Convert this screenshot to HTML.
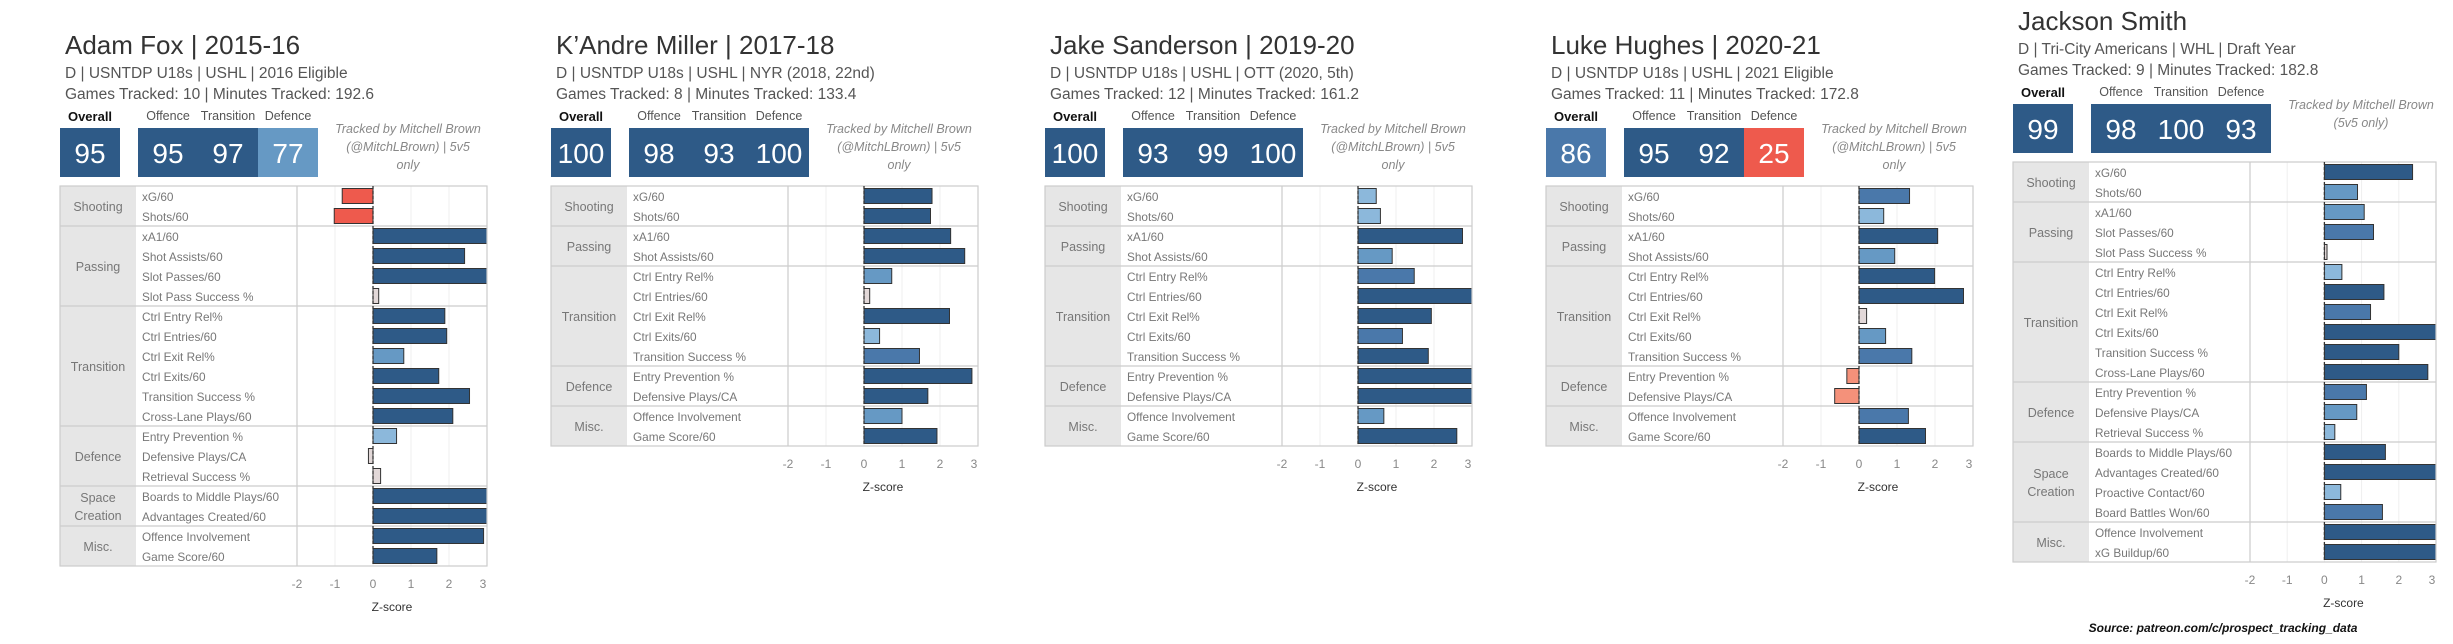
<!DOCTYPE html>
<html><head><meta charset="utf-8">
<style>
html,body{margin:0;padding:0;background:#fff;}
svg{display:block;font-family:"Liberation Sans",sans-serif;}
</style></head>
<body>
<svg id="root" width="2453" height="644" viewBox="0 0 2453 644" xmlns="http://www.w3.org/2000/svg"></svg>
<script>
// ---- data ----
const titles = ["Adam Fox | 2015-16","K\u2019Andre Miller | 2017-18","Jake Sanderson | 2019-20","Luke Hughes | 2020-21","Jackson Smith"];
const subtitles = ["D | USNTDP U18s | USHL | 2016 Eligible","D | USNTDP U18s | USHL | NYR (2018, 22nd)","D | USNTDP U18s | USHL | OTT (2020, 5th)","D | USNTDP U18s | USHL | 2021 Eligible","D | Tri-City Americans | WHL | Draft Year"];
const gamesLines = ["Games Tracked: 10 | Minutes Tracked: 192.6","Games Tracked: 8 | Minutes Tracked: 133.4","Games Tracked: 12 | Minutes Tracked: 161.2","Games Tracked: 11 | Minutes Tracked: 172.8","Games Tracked: 9 | Minutes Tracked: 182.8"];
const overallScores = [95,100,100,86,99];
const offenceScores = [95,98,93,95,98];
const transitionScores = [97,93,99,92,100];
const defenceScores = [77,100,100,25,93];
const trackedNotes = [["Tracked by Mitchell Brown","(@MitchLBrown) | 5v5","only"],["Tracked by Mitchell Brown","(@MitchLBrown) | 5v5","only"],["Tracked by Mitchell Brown","(@MitchLBrown) | 5v5","only"],["Tracked by Mitchell Brown","(@MitchLBrown) | 5v5","only"],["Tracked by Mitchell Brown","(5v5 only)"]];

const groupsA = [["Shooting",["xG/60","Shots/60"]],["Passing",["xA1/60","Shot Assists/60","Slot Passes/60","Slot Pass Success %"]],["Transition",["Ctrl Entry Rel%","Ctrl Entries/60","Ctrl Exit Rel%","Ctrl Exits/60","Transition Success %","Cross-Lane Plays/60"]],["Defence",["Entry Prevention %","Defensive Plays/CA","Retrieval Success %"]],["Space|Creation",["Boards to Middle Plays/60","Advantages Created/60"]],["Misc.",["Offence Involvement","Game Score/60"]]];
const groupsB = [["Shooting",["xG/60","Shots/60"]],["Passing",["xA1/60","Shot Assists/60"]],["Transition",["Ctrl Entry Rel%","Ctrl Entries/60","Ctrl Exit Rel%","Ctrl Exits/60","Transition Success %"]],["Defence",["Entry Prevention %","Defensive Plays/CA"]],["Misc.",["Offence Involvement","Game Score/60"]]];
const groupsC = [["Shooting",["xG/60","Shots/60"]],["Passing",["xA1/60","Slot Passes/60","Slot Pass Success %"]],["Transition",["Ctrl Entry Rel%","Ctrl Entries/60","Ctrl Exit Rel%","Ctrl Exits/60","Transition Success %","Cross-Lane Plays/60"]],["Defence",["Entry Prevention %","Defensive Plays/CA","Retrieval Success %"]],["Space|Creation",["Boards to Middle Plays/60","Advantages Created/60","Proactive Contact/60","Board Battles Won/60"]],["Misc.",["Offence Involvement","xG Buildup/60"]]];

const foxZ = [-0.81,-1.02, 3.5,2.41,3.5,0.15, 1.89,1.94,0.81,1.73,2.54,2.1, 0.62,-0.12,0.2, 3.5,3.5, 2.91,1.68];
const millerZ = [1.79,1.75, 2.28,2.65, 0.73,0.15,2.25,0.41,1.46, 2.84,1.68, 1.0,1.92];
const sandersonZ = [0.48,0.59, 2.75,0.9, 1.48,3.5,1.93,1.17,1.85, 3.5,3.5, 0.68,2.6];
const hughesZ = [1.33,0.65, 2.07,0.94, 1.99,2.75,0.2,0.7,1.39, -0.32,-0.64, 1.3,1.75];
const smithZ = [2.37,0.89, 1.07,1.32,0.07, 0.47,1.6,1.24,3.5,2.0,2.78, 1.13,0.87,0.28, 1.64,3.5,0.44,1.56, 3.5,3.5];
const panelZ = [foxZ,millerZ,sandersonZ,hughesZ,smithZ];
const panelGroups = [groupsA,groupsB,groupsB,groupsB,groupsC];
const tickValues = [-2,-1,0,1,2,3];
const tickLabels = ["-2","-1","0","1","2","3"];

// ---- layout ----
const panelLeft = [60,551,1045,1546,2013];
const panelShift = [0,0,0,0,-24];
const NS = "http://www.w3.org/2000/svg";
const root = document.getElementById('root');
function mk(tag, attrs, parent, text){
  const e = document.createElementNS(NS, tag);
  for (const k in attrs) e.setAttribute(k, attrs[k]);
  if (text !== undefined) e.textContent = text;
  (parent||root).appendChild(e);
  return e;
}
function zColor(v){
  if (v >= 1.58) return "#2e5a87";
  if (v >= 1.1) return "#4a78aa";
  if (v >= 0.68) return "#6699c4";
  if (v >= 0.25) return "#8cb8db";
  if (v > -0.25) return "#e2d8d8";
  if (v > -0.75) return "#f4917a";
  return "#ee5a4d";
}
function scoreColor(s){
  if (s >= 90) return "#2e5a87";
  if (s >= 80) return "#4a78aa";
  if (s >= 60) return "#6699c4";
  return "#ee5a4d";
}

for (let p = 0; p < 5; p++){
  const L = panelLeft[p], dy = panelShift[p];
  const g = mk('g', {}, root);
  
  

  let t = mk('text', {x:L+5, y:54+dy, 'font-size':26, fill:'#333'}, g, titles[p]);
   
  t = mk('text', {x:L+5, y:78+dy, 'font-size':15.5, fill:'#555'}, g, subtitles[p]);
   
  t = mk('text', {x:L+5, y:99+dy, 'font-size':15.5, fill:'#555'}, g, gamesLines[p]);
   

  t = mk('text', {x:L+30, y:121+dy, 'font-size':13, 'font-weight':'bold', fill:'#111', 'text-anchor':'middle'}, g, "Overall");
   
  const subs = ["Offence","Transition","Defence"];
  const subVals = [offenceScores[p], transitionScores[p], defenceScores[p]];
  for (let i=0;i<3;i++){
    t = mk('text', {x:L+108+60*i, y:120+dy, 'font-size':12.5, fill:'#555', 'text-anchor':'middle'}, g, subs[i]);
     
  }
  let r = mk('rect', {x:L, y:128+dy, width:60, height:49, fill:scoreColor(overallScores[p])}, g);
   
  t = mk('text', {x:L+30, y:163+dy, 'font-size':28, fill:'#fff', 'text-anchor':'middle'}, g, String(overallScores[p]));
   
  for (let i=0;i<3;i++){
    r = mk('rect', {x:L+78+60*i, y:128+dy, width:60, height:49, fill:scoreColor(subVals[i])}, g);
     
    t = mk('text', {x:L+108+60*i, y:163+dy, 'font-size':28, fill:'#fff', 'text-anchor':'middle'}, g, String(subVals[i]));
     
  }
  trackedNotes[p].forEach((line,i)=>{
    const tt = mk('text', {x:L+348, y:133+dy+18*i, 'font-size':12.5, 'font-style':'italic', fill:'#888', 'text-anchor':'middle'}, g, line);
     
  });

  // table
  const top = 186+dy, rowH = 20;
  const catW = 76, labW = 161, plotW = (p===4?186:190);
  const plotL = L+catW+labW, plotR = plotL+plotW;
  const unit = plotW/5;
  const xs = v => plotL + (v+2)*unit;
  const groups = panelGroups[p], Z = panelZ[p];
  const nRows = groups.reduce((a,gg)=>a+gg[1].length,0);
  const bottom = top + nRows*rowH;

  mk('rect', {x:L, y:top, width:catW, height:nRows*rowH, fill:'#e6e6e6'}, g);
  // gridlines
  tickValues.forEach(v=>{
    const gl = mk('line', {x1:xs(v), x2:xs(v), y1:top, y2:bottom, stroke:'#efefef', 'stroke-width':1}, g);
     
  });
  let row = 0;
  const clipId = 'clip'+p;
  const cp = mk('clipPath', {id:clipId}, g);
  mk('rect', {x:plotL-20, y:top, width:plotW+20, height:nRows*rowH}, cp);
  const barsG = mk('g', {'clip-path':'url(#'+clipId+')'}, g);
  groups.forEach((grp, gi)=>{
    const n = grp[1].length, gy = top+row*rowH, gh = n*rowH;
    const lines = grp[0].split('|');
    lines.forEach((ln,li)=>{
      const ct = mk('text', {x:L+catW/2, y:gy+gh/2+5+(li-(lines.length-1)/2)*18, 'font-size':12.5, fill:'#777', 'text-anchor':'middle'}, g, ln);
       
    });
    grp[1].forEach((lab, j)=>{
      const y = top+(row+j)*rowH;
      const lt = mk('text', {x:L+catW+6, y:y+15, 'font-size':11.8, fill:'#777'}, g, lab);
       
      const v = Z[row+j];
      const x0 = Math.min(xs(0), xs(v)), w = Math.abs(xs(v)-xs(0));
      const b = mk('rect', {x:x0, y:y+2.5, width:Math.max(w,1), height:15, fill:zColor(v), stroke:'#333', 'stroke-width':1}, barsG);
       
    });
    row += n;
    if (gi < groups.length-1){
      mk('line', {x1:L, x2:plotR, y1:top+row*rowH, y2:top+row*rowH, stroke:'#ccc', 'stroke-width':1.2}, g);
    }
  });
  // borders
  mk('rect', {x:L, y:top, width:plotR-L, height:nRows*rowH, fill:'none', stroke:'#ccc', 'stroke-width':1.2}, g);
  mk('line', {x1:plotL, x2:plotL, y1:top, y2:bottom, stroke:'#ccc', 'stroke-width':1.2}, g);
  const zl = mk('line', {x1:xs(0), x2:xs(0), y1:top, y2:bottom, stroke:'#333', 'stroke-width':1.3, 'stroke-dasharray':'3,2'}, g);
   
  tickValues.forEach((v,i)=>{
    const tk = mk('text', {x:(v===3?xs(v)-4:xs(v)), y:bottom+22, 'font-size':12, fill:'#888', 'text-anchor':'middle'}, g, tickLabels[i]);
     
  });
  const zt = mk('text', {x:xs(0)+19, y:bottom+45, 'font-size':12, fill:'#333', 'text-anchor':'middle'}, g, "Z-score");
   
}
const src = mk('text', {x:2223, y:632, 'font-size':12, 'font-style':'italic', 'font-weight':'bold', fill:'#111', 'text-anchor':'middle'}, root, "Source: patreon.com/c/prospect_tracking_data");


</script>
</body></html>
